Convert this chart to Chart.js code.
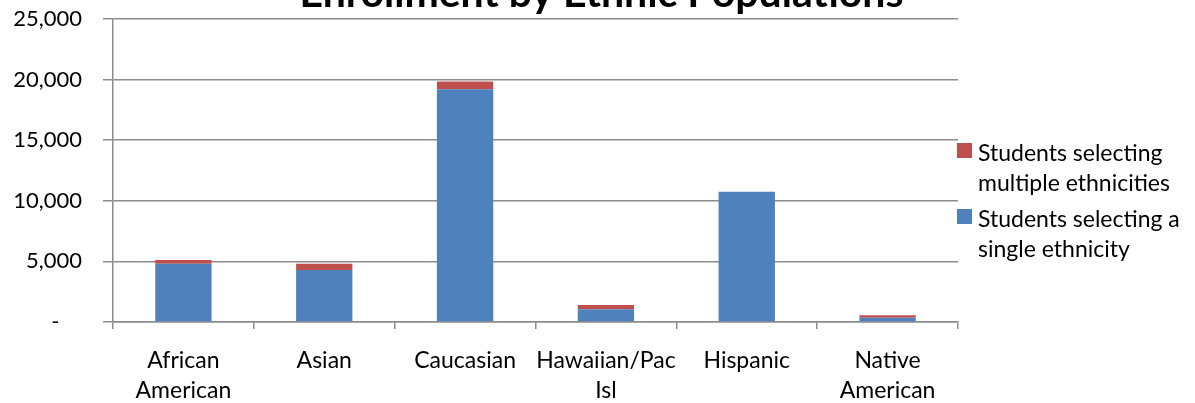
<!DOCTYPE html>
<html>
<head>
<meta charset="utf-8">
<title>Enrollment by Ethnic Populations</title>
<script src="https://cdn.jsdelivr.net/npm/chart.js@4/dist/chart.umd.min.js"></script>
<style>
  html, body { margin: 0; padding: 0; background: #fff; }
  #wrap { position: relative; width: 1195px; height: 403px; }
  #legend { position: absolute; left: 957px; top: 137px; font-family: Lato, sans-serif; font-size: 23px; line-height: 30px; color: #000; }
  .item { position: relative; padding-left: 21px; margin-bottom: 6px; white-space: nowrap; }
  .swatch { position: absolute; left: 0; top: 6px; width: 15px; height: 15px; }
</style>
</head>
<body>
<div id="wrap">
  <canvas id="enrollment" width="1195" height="403"></canvas>
  <div id="legend"></div>
</div>
<script>
const chartTitle = "Enrollment by Ethnic Populations";
const categories = [["African", "American"], "Asian", "Caucasian", ["Hawaiian/Pac", "Isl"], "Hispanic", ["Native", "American"]];
const singleEthnicity = [4800, 4300, 19200, 1050, 10750, 350];
const multipleEthnicities = [320, 500, 650, 350, 0, 200];
const seriesNames = [["Students selecting a", "single ethnicity"], ["Students selecting", "multiple ethnicities"]];
const yTicks = [0, 5000, 10000, 15000, 20000, 25000];

const gridGray = "#8c8c8c";
const font = "Lato, 'DejaVu Sans', sans-serif";

// title sits partly above the canvas edge, like the original image
const titlePlugin = {
  id: "cutTitle",
  afterDraw(chart) {
    const ctx = chart.ctx;
    ctx.save();
    ctx.font = "bold 41px " + font;
    ctx.fillStyle = "#000";
    ctx.textAlign = "center";
    ctx.textBaseline = "alphabetic";
    ctx.fillText(chartTitle, chart.width / 2 + 4, 7);
    ctx.restore();
  }
};

let ctx = document.querySelector("#enrollment").getContext("2d");

let chart = new Chart(ctx, {
  type: "bar",
  data: {
    labels: categories,
    datasets: [
      {
        label: seriesNames[0].join(" "),
        data: singleEthnicity,
        backgroundColor: "#4f81bd",
      },
      {
        label: seriesNames[1].join(" "),
        data: multipleEthnicities,
        backgroundColor: "#c0504d",
      },
    ],
  },
  options: {
    responsive: false,
    animation: false,
    layout: {
      padding: { top: 19, right: 237, left: 0, bottom: 0 },
    },
    datasets: {
      bar: { barPercentage: 0.4, categoryPercentage: 1.0 },
    },
    plugins: {
      legend: { display: false },
      tooltip: { enabled: false },
    },
    scales: {
      x: {
        stacked: true,
        afterFit: (scale) => { scale.height = 81; },
        grid: {
          offset: true,
          drawOnChartArea: false,
          tickLength: 7,
          color: gridGray,
          lineWidth: 1.5,
        },
        border: { color: gridGray, width: 1.5 },
        ticks: {
          color: "#000",
          autoSkip: false,
          maxRotation: 0,
          padding: 17,
          font: { family: font, size: 23, lineHeight: "30px" },
        },
      },
      y: {
        stacked: true,
        min: 0,
        max: 25000,
        afterFit: (scale) => {
          scale.width = 113;
          // tick padding would otherwise push the plot top down
          scale.paddingTop = 0;
          scale.paddingBottom = 0;
        },
        afterBuildTicks: (scale) => {
          scale.ticks = yTicks.map((v) => ({ value: v }));
        },
        grid: {
          tickLength: 10,
          color: gridGray,
          lineWidth: 1.5,
        },
        border: { color: gridGray, width: 1.5 },
        ticks: {
          color: "#000",
          padding: 21,
          font: { family: font, size: 22 },
          callback: (value) => value === 0 ? "-    " : value.toLocaleString("en-US"),
        },
      },
    },
  },
  plugins: [titlePlugin],
});

// legend: multiple ethnicities listed first, as in the original
let legend = document.querySelector("#legend");
[1, 0].forEach((i) => {
  let item = document.createElement("div");
  item.className = "item";
  let swatch = document.createElement("span");
  swatch.className = "swatch";
  swatch.style.background = chart.data.datasets[i].backgroundColor;
  item.appendChild(swatch);
  seriesNames[i].forEach((line, k) => {
    if (k > 0) item.appendChild(document.createElement("br"));
    item.appendChild(document.createTextNode(line));
  });
  legend.appendChild(item);
});
</script>
</body>
</html>
